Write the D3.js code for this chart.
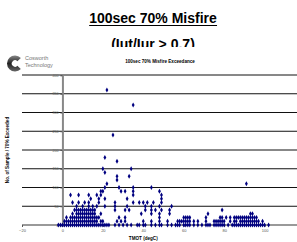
<!DOCTYPE html>
<html>
<head>
<meta charset="utf-8">
<script src="https://cdn.jsdelivr.net/npm/d3@7"></script>
<style>
  body { margin: 0; background: #fff; }
  svg { display: block; font-family: "Liberation Sans", Arial, sans-serif; }
</style>
</head>
<body>
<div id="chart"></div>
<script>
// axis ticks
var xTicks = [-20, 0, 20, 40, 60, 80, 100];
var yTicks = [0, 50, 100, 150, 200, 250, 300, 350, 400];

// points grouped by exceeded count (row value) -> TMOT values
var rowValues = [0, 10, 20, 30, 40, 50, 60, 70, 80, 90, 100, 110, 120, 130, 140, 150, 170, 180, 240, 320, 360];
var rowTmot = [
  [-2,-1,0,1,2,3,4,5,6,7,8,9,10,11,12,13,14,15,16,17,18,19,20,21,22,23,26,28,30,32,34,37,38,40,41,44,46,48,49,52,54,56,57,58,60,61,62,63,65,67,69,71,72,73,75,76,77,78,79,80,82,84,85,86,87,88,89,90,91,92,93,94,95,96,97,98,99,100,102],
  [1,2,3,4,5,6,7,8,9,10,11,12,13,14,15,16,17,19,20,27,29,31,40,44,48,52,57,58,59,60,61,62,63,65,67,71,75,76,77,78,79,80,83,85,86,88,89,90,91,92,93,94,95,96,97,99],
  [2,4,5,6,7,8,9,10,11,12,13,14,15,16,17,18,28,31,48,60,61,62,63,71,78,79,81,83,85,86,87,88,89,90,91,92,93,94,95,96],
  [5,7,8,9,10,11,12,13,14,15,16,19,39,44,48,53,72,93,94],
  [6,7,8,9,10,11,12,13,14,15,16,26,31,33,41,44,46,49,53,79],
  [7,10,13,15,17,21,26,32,41,44,48,54],
  [5,8,11,13,18,26,35,38,40,42,45,49],
  [14,18,21,32,49],
  [4,8,13,17,19,35,49],
  [19,20,29,31,35,48],
  [21,28,35,44],
  [22,91],
  [27],
  [27,33],
  [21],
  [20,34],
  [27],
  [21],
  [25],
  [35],
  [22]
];

var width = 297, height = 242;

var svg = d3.select("#chart").append("svg")
    .attr("width", width)
    .attr("height", height);

// slide heading
var head = svg.append("text")
    .attr("x", 153).attr("y", 22.5)
    .attr("text-anchor", "middle")
    .style("font-size", "14px").style("font-weight", "bold")
    .text("100sec 70% Misfire");
var hb = head.node().getBBox();
svg.append("line")
    .attr("x1", hb.x).attr("x2", hb.x + hb.width)
    .attr("y1", 25.5).attr("y2", 25.5)
    .attr("stroke", "#000").attr("stroke-width", 1.2);

svg.append("text")
    .attr("x", 153).attr("y", 48.5)
    .attr("text-anchor", "middle")
    .style("font-size", "14px").style("font-weight", "bold")
    .text("(Iut/Iur > 0.7)");

// chart picture covers the bottom of the subtitle
svg.append("rect")
    .attr("x", 0).attr("y", 47).attr("width", width).attr("height", height - 47)
    .attr("fill", "#fff");

// logo
var grad = svg.append("defs").append("linearGradient")
    .attr("id", "lg").attr("x1", 0).attr("x2", 0).attr("y1", 0).attr("y2", 1);
grad.append("stop").attr("offset", 0).attr("stop-color", "#888");
grad.append("stop").attr("offset", 0.5).attr("stop-color", "#222");
grad.append("stop").attr("offset", 1).attr("stop-color", "#666");
svg.append("g").attr("transform", "translate(15,63.5)")
  .append("path")
    .attr("d", d3.arc()({innerRadius: 3.2, outerRadius: 8,
        startAngle: Math.PI / 2 + 0.75, endAngle: Math.PI / 2 + 2 * Math.PI - 0.75}))
    .attr("fill", "url(#lg)");
svg.append("text").attr("x", 25).attr("y", 59.5)
    .style("font-size", "5.5px").attr("fill", "#777").text("Cosworth");
svg.append("text").attr("x", 25).attr("y", 66.5)
    .style("font-size", "5.5px").attr("fill", "#777").text("Technology");

svg.append("text")
    .attr("x", 160).attr("y", 62.5)
    .attr("text-anchor", "middle")
    .style("font-size", "4.6px").style("font-weight", "bold")
    .text("100sec 70% Misfire Exceedance");

// scales
var x = d3.scaleLinear().domain([-20, 120]).range([22, 305]);
var y = d3.scaleLinear().domain([0, 400]).range([225, 75]);

// gridlines
svg.append("g").selectAll("line")
    .data(yTicks.slice(1))
  .enter().append("line")
    .attr("x1", 22).attr("x2", width)
    .attr("y1", function(d) { return y(d); })
    .attr("y2", function(d) { return y(d); })
    .attr("stroke", "#111").attr("stroke-width", 1);

// x axis (at zero)
var xAxis = svg.append("g")
    .attr("transform", "translate(0," + y(0) + ")")
    .call(d3.axisBottom(x).tickValues(xTicks).tickSize(2).tickPadding(2));
xAxis.select(".domain").attr("stroke", "#777").attr("stroke-width", 1.4)
    .attr("d", "M22,0H" + width);
xAxis.selectAll("text").style("font-size", "4px").attr("fill", "#555");
xAxis.selectAll(".tick line").attr("stroke", "#555");

// y axis (at TMOT 0)
var yAxis = svg.append("g")
    .attr("transform", "translate(" + x(0) + ",0)")
    .call(d3.axisLeft(y).tickValues(yTicks).tickSize(2).tickPadding(2));
yAxis.select(".domain").attr("stroke", "#888").attr("stroke-width", 2);
yAxis.selectAll("text").style("font-size", "3.6px").attr("fill", "#666");
yAxis.selectAll(".tick line").attr("stroke", "#555");

// axis titles
svg.append("text")
    .attr("x", x(40)).attr("y", 239.5)
    .attr("text-anchor", "middle")
    .style("font-size", "4.6px").style("font-weight", "bold")
    .text("TMOT (degC)");
svg.append("text")
    .attr("transform", "translate(8.5," + y(200) + ") rotate(-90)")
    .attr("text-anchor", "middle")
    .style("font-size", "4.6px").style("font-weight", "bold")
    .text("No. of Sample / 70% Exceeded");

// points
var points = [];
rowValues.forEach(function(v, i) {
  rowTmot[i].forEach(function(t) { points.push({ tmot: t, n: v }); });
});

svg.append("g").selectAll("path")
    .data(points)
  .enter().append("path")
    .attr("d", d3.symbol().type(d3.symbolDiamond).size(7))
    .attr("transform", function(d) { return "translate(" + x(d.tmot) + "," + y(d.n) + ")"; })
    .attr("fill", "#000080");
</script>
</body>
</html>
